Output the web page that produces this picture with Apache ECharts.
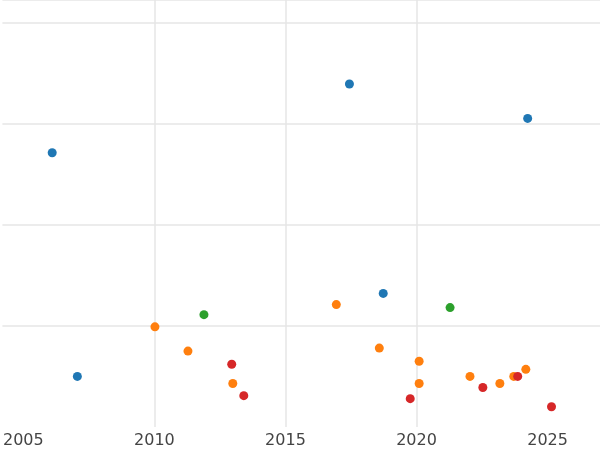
<!DOCTYPE html>
<html><head><meta charset="utf-8">
<script src="https://cdn.jsdelivr.net/npm/echarts@6/dist/echarts.min.js"></script>
<style>html,body{margin:0;background:#fff}#c{width:600px;height:450px}</style>
</head><body><div id="c"></div>
<script>
var xTicks = [2005, 2010, 2015, 2020, 2025];
var blueX = [2006.1, 2007.06, 2017.44, 2018.73, 2024.24];
var blueY = [2.71, 0.50, 3.39, 1.32, 3.05];
var orangeX = [2010.02, 2011.28, 2012.99, 2016.94, 2018.58, 2020.1, 2020.1, 2022.04, 2023.18, 2023.71, 2024.17];
var orangeY = [0.99, 0.75, 0.43, 1.21, 0.78, 0.65, 0.43, 0.50, 0.43, 0.50, 0.57];
var greenX = [2011.89, 2021.28];
var greenY = [1.11, 1.18];
var redX = [2012.95, 2013.41, 2019.76, 2022.53, 2023.86, 2025.15];
var redY = [0.62, 0.31, 0.28, 0.39, 0.50, 0.20];

function pts(xs, ys) { return xs.map(function (x, i) { return [x, ys[i]]; }); }
function ser(xs, ys, c) {
    return { type: 'scatter', symbolSize: 9, itemStyle: { color: c, opacity: 1 }, data: pts(xs, ys) };
}

var option = {
    backgroundColor: '#fff',
    animation: false,
    grid: { left: 0, right: 0, top: 0, bottom: 23 },
    xAxis: {
        type: 'value', min: 2004.2, max: 2027.0,
        axisLine: { show: false },
        axisTick: { show: false, customValues: xTicks },
        axisLabel: { customValues: xTicks, formatter: function (v) { return String(v); },
            color: '#444', fontSize: 16, fontFamily: 'DejaVu Sans', margin: 6 },
        splitLine: { show: true, showMinLine: false, showMaxLine: false, lineStyle: { color: '#e6e6e6', width: 1.5 } }
    },
    yAxis: {
        type: 'value', min: 0, max: 4.22, interval: 1,
        axisLine: { show: false },
        axisTick: { show: false },
        axisLabel: { show: false },
        splitLine: { show: true, showMinLine: false, lineStyle: { color: '#e6e6e6', width: 1.5 } }
    },
    series: [
        ser(blueX, blueY, '#1f77b4'),
        ser(orangeX, orangeY, '#ff7f0e'),
        ser(greenX, greenY, '#2ca02c'),
        ser(redX, redY, '#d62728')
    ]
};
var chart = echarts.init(document.getElementById('c'));
chart.setOption(option);
</script></body></html>
